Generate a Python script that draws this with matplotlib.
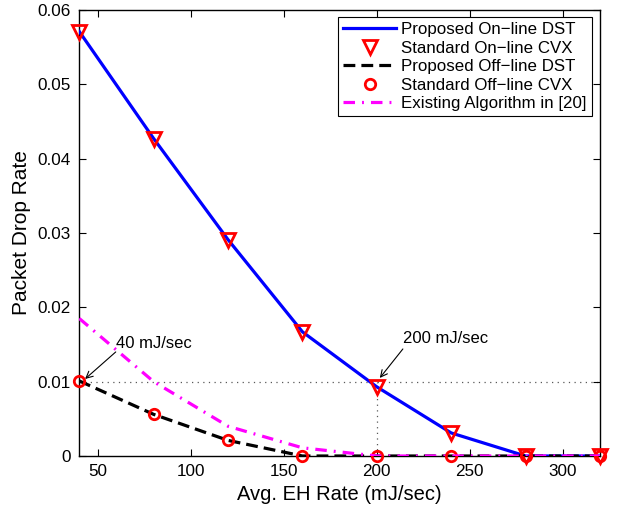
import matplotlib
matplotlib.use("Agg")
import matplotlib.pyplot as plt

plt.rcParams['font.family'] = ['Liberation Sans', 'DejaVu Sans']

# Average energy-harvesting rate (mJ/sec)
eh_rate = [40, 80, 120, 160, 200, 240, 280, 320]

# Packet drop rate per scheme
online_dst = [0.0571, 0.0427, 0.0291, 0.0167, 0.0093, 0.0031, 0.0, 0.0]
online_cvx = [0.0571, 0.0427, 0.0291, 0.0167, 0.0093, 0.0031, 0.0, 0.0]
offline_dst = [0.0101, 0.0056, 0.0021, 0.0, 0.0, 0.0, 0.0, 0.0]
offline_cvx = [0.0101, 0.0056, 0.0021, 0.0, 0.0, 0.0, 0.0, 0.0]
existing_20 = [0.0185, 0.0100, 0.0040, 0.0011, 0.0, 0.0, 0.0, 0.0]

series_labels = ['Proposed On\u2212line DST', 'Standard On\u2212line CVX',
                 'Proposed Off\u2212line DST', 'Standard Off\u2212line CVX',
                 'Existing Algorithm in [20]']

x_ticks = [50, 100, 150, 200, 250, 300]
y_ticks = [0, 0.01, 0.02, 0.03, 0.04, 0.05, 0.06]

fig = plt.figure(figsize=(6.19, 5.08), dpi=100)
ax = fig.add_axes([79.3 / 619, 52 / 508, 520.7 / 619, 446 / 508])

# Reference guides at 0.01 drop rate and 200 mJ/sec
ax.plot([40, 320], [0.01, 0.01], linestyle=(0, (1, 3.5)), color='0.35', lw=0.9, zorder=1)
ax.plot([200, 200], [0, 0.01], linestyle=(0, (1, 3.5)), color='0.35', lw=0.9, zorder=1)

ax.plot(eh_rate, online_dst, color='#0000ff', lw=2.3, label=series_labels[0], zorder=3)
ax.plot(eh_rate, online_cvx, linestyle='none', marker='v', markersize=10,
        markerfacecolor='none', markeredgecolor='#ff0000', markeredgewidth=2,
        label=series_labels[1], zorder=4, clip_on=False)
ax.plot(eh_rate, offline_dst, color='k', lw=2.3, linestyle=(0, (3.7, 1.9)),
        label=series_labels[2], zorder=5)
ax.plot(eh_rate, offline_cvx, linestyle='none', marker='o', markersize=7.5,
        markerfacecolor='none', markeredgecolor='#ff0000', markeredgewidth=2,
        label=series_labels[3], zorder=6, clip_on=False)
ax.plot(eh_rate, existing_20, color='#ff00ff', lw=2.3,
        linestyle=(0, (3.6, 2.2, 0.6, 2.2)), label=series_labels[4], zorder=7)

ax.set_xlim(40, 320)
ax.set_ylim(0, 0.06)
ax.set_xticks(x_ticks)
ax.set_yticks(y_ticks)
ax.set_yticklabels(['0', '0.01', '0.02', '0.03', '0.04', '0.05', '0.06'])
ax.tick_params(direction='in', top=True, right=True, length=5, width=0.8,
               labelsize=12.3, pad=6)
for s in ax.spines.values():
    s.set_linewidth(1.0)

ax.set_xlabel('Avg. EH Rate (mJ/sec)', fontsize=14.5, labelpad=4)
ax.set_ylabel('Packet Drop Rate', fontsize=15, labelpad=5)

# Callouts
ax.text(59.6, 0.0152, '40 mJ/sec', fontsize=12, ha='left', va='center')
ax.annotate('', xy=(43.1, 0.01036), xytext=(59.6, 0.0140),
            arrowprops=dict(arrowstyle='->', color='k', lw=0.8,
                            shrinkA=0, shrinkB=0, mutation_scale=12))
ax.text(214.0, 0.01574, '200 mJ/sec', fontsize=12, ha='left', va='center')
ax.annotate('', xy=(201.6, 0.0105), xytext=(214.0, 0.0144),
            arrowprops=dict(arrowstyle='->', color='k', lw=0.8,
                            shrinkA=0, shrinkB=0, mutation_scale=12))

leg = ax.legend(loc='upper right', bbox_to_anchor=(0.984, 0.9836), borderaxespad=0,
                fontsize=12.2, handlelength=3.1, handletextpad=0.3,
                labelspacing=0.2, borderpad=0.3, fancybox=False, framealpha=1,
                edgecolor='k')
leg.get_frame().set_linewidth(0.8)

fig.savefig('out.png', dpi=100)
